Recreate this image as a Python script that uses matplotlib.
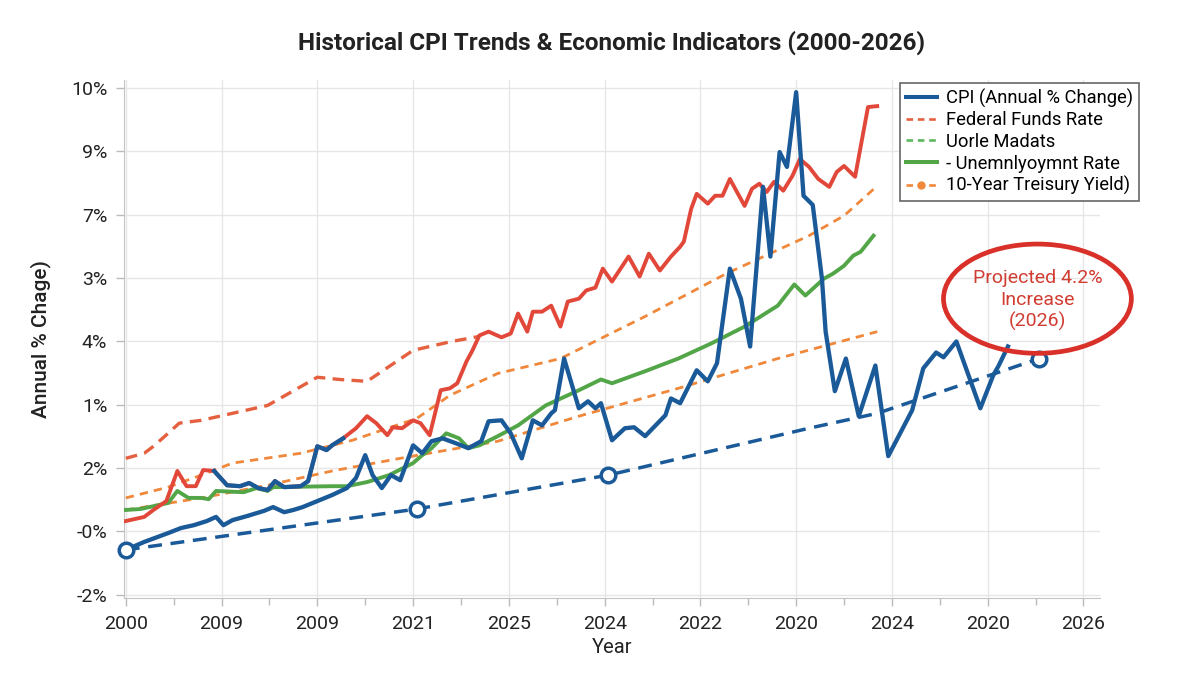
import numpy as np
import matplotlib.pyplot as plt
from matplotlib.lines import Line2D
from matplotlib.patches import Ellipse

plt.rcParams['font.family'] = ['Roboto', 'DejaVu Sans']

# axis labels exactly as printed on the chart
x_tick_labels = ['2000', '2009', '2009', '2021', '2025', '2024', '2022', '2020', '2024', '2020', '2026']
y_tick_labels = ['-2%', '-0%', '2%', '1%', '4%', '3%', '7%', '9%', '10%']

# CPI (annual % change), main series
cpi_year = [2000.0, 2000.5, 2001.15, 2001.5, 2001.85, 2002.2, 2002.45, 2002.65, 2002.9, 2003.3,
            2003.75, 2004.0, 2004.3, 2004.55, 2004.8, 2005.2, 2005.6, 2006.0, 2006.25, 2006.5,
            2006.7, 2006.95, 2007.2, 2007.45, 2007.8, 2008.05, 2008.3, 2008.6, 2008.95, 2009.3,
            2009.65, 2009.85, 2010.2, 2010.45, 2010.75, 2011.05, 2011.3, 2011.55, 2011.65, 2011.9,
            2012.3, 2012.55, 2012.75, 2012.9, 2013.2, 2013.55, 2013.8, 2014.1, 2014.65, 2014.8,
            2015.05, 2015.5, 2015.8, 2016.05, 2016.4, 2016.7, 2016.95, 2017.3, 2017.5, 2017.75,
            2017.95, 2018.2, 2018.4, 2018.65, 2018.9, 2019.0, 2019.25, 2019.55, 2019.9, 2020.35,
            2020.7, 2021.35, 2021.65, 2022.0, 2022.2, 2022.55, 2023.2, 2023.55, 2023.7, 2023.95]
cpi_val = [-0.58, -0.33, -0.05, 0.11, 0.20, 0.33, 0.46, 0.20, 0.36, 0.49,
           0.65, 0.77, 0.61, 0.68, 0.77, 0.96, 1.15, 1.37, 1.69, 2.41,
           1.78, 1.37, 1.78, 1.62, 2.72, 2.47, 2.85, 2.94, 2.79, 2.63,
           2.85, 3.48, 3.51, 3.10, 2.31, 3.51, 3.35, 3.73, 3.83, 5.46,
           3.89, 4.11, 3.89, 4.05, 2.88, 3.26, 3.29, 3.01, 3.67, 4.20,
           4.05, 5.09, 4.74, 5.31, 8.30, 7.35, 5.84, 10.88, 8.68, 11.98,
           11.51, 13.87, 10.60, 10.31, 7.98, 6.31, 4.43, 5.46, 3.64, 5.24,
           2.38, 3.83, 5.15, 5.65, 5.50, 6.00, 3.89, 4.93, 5.24, 5.84]

# short CPI segment drawn over the red line
cpi2_year = [2002.4, 2002.75, 2003.1, 2003.35, 2003.6, 2003.85, 2004.05, 2004.3, 2004.75,
             2004.95, 2005.2, 2005.45, 2005.6, 2005.9]
cpi2_val = [1.91, 1.46, 1.43, 1.53, 1.37, 1.31, 1.59, 1.40, 1.43, 1.59, 2.69, 2.57, 2.72, 2.94]

# red solid line
red_year = [2000.0, 2000.5, 2000.75, 2001.1, 2001.4, 2001.65, 2001.9, 2002.1, 2002.4,
            2002.75, 2003.1, 2003.35, 2003.6, 2003.85, 2004.05, 2004.3, 2004.75, 2004.95,
            2005.2, 2005.45, 2005.6, 2005.9,
            2006.15, 2006.25, 2006.55, 2006.8, 2007.1, 2007.25, 2007.5, 2007.8, 2008.0, 2008.25,
            2008.55, 2008.8, 2009.0, 2009.25, 2009.4, 2009.6, 2009.85, 2010.2, 2010.45, 2010.65,
            2010.9, 2011.05, 2011.3, 2011.55, 2011.8, 2012.0, 2012.3, 2012.5, 2012.75, 2012.95,
            2013.2, 2013.65, 2013.95, 2014.2, 2014.5, 2014.8, 2015.05, 2015.15, 2015.35, 2015.5,
            2015.8, 2016.0, 2016.2, 2016.4, 2016.8, 2017.0, 2017.2, 2017.4, 2017.6, 2017.85,
            2018.1, 2018.3, 2018.55, 2018.8, 2019.1, 2019.3, 2019.5, 2019.8, 2020.15, 2020.4]
red_val = [0.33, 0.46, 0.68, 0.96, 1.91, 1.43, 1.43, 1.94, 1.91,
           1.46, 1.43, 1.53, 1.37, 1.31, 1.59, 1.40, 1.43, 1.59,
           2.69, 2.57, 2.72, 2.94,
           3.17, 3.26, 3.64, 3.42, 3.04, 3.29, 3.26, 3.51, 3.42, 3.04,
           4.46, 4.52, 4.68, 5.37, 5.69, 6.19, 6.31, 6.13, 6.25, 6.88,
           6.31, 6.94, 6.94, 7.13, 6.47, 7.26, 7.35, 7.61, 7.70, 8.30,
           7.89, 8.68, 8.05, 8.77, 8.24, 8.68, 8.99, 9.15, 10.19, 10.66,
           10.35, 10.60, 10.60, 11.13, 10.28, 10.82, 10.98, 10.72, 11.04, 10.76,
           11.23, 11.76, 11.51, 11.13, 10.88, 11.35, 11.54, 11.20, 13.40, 13.43]

# Federal Funds Rate (dashed)
fed_year = [2000.0, 2000.5, 2000.75, 2001.15, 2001.45, 2002.05, 2003.85, 2005.2, 2005.8,
            2006.55, 2007.8, 2008.85, 2009.6]
fed_val = [2.31, 2.47, 2.69, 3.10, 3.42, 3.51, 3.98, 4.87, 4.80, 4.74, 5.72, 6.00, 6.16]

# unemployment rate
unemp_year = [2000.0, 2000.4, 2001.15, 2001.4, 2001.7, 2002.05, 2002.25, 2002.45, 2003.2,
              2003.55, 2003.85, 2004.0, 2005.6, 2006.0, 2006.55, 2007.15, 2007.8, 2008.05,
              2008.3, 2008.7, 2009.05, 2009.3, 2009.6, 2010.1, 2010.65, 2011.4, 2012.3, 2012.9,
              2013.2, 2014.1, 2015.0, 2015.9, 2016.8, 2017.7, 2018.15, 2018.45, 2018.95, 2019.2,
              2019.5, 2019.75, 2019.95, 2020.3]
unemp_val = [0.68, 0.71, 0.90, 1.28, 1.06, 1.06, 1.02, 1.28, 1.24,
             1.37, 1.28, 1.40, 1.43, 1.43, 1.56, 1.78, 2.16, 2.41,
             2.63, 3.10, 2.94, 2.63, 2.72, 3.01, 3.35, 3.98, 4.46, 4.80,
             4.68, 5.06, 5.46, 5.94, 6.47, 7.13, 7.80, 7.45, 7.98, 8.14,
             8.39, 8.71, 8.83, 9.34]

# 10-year treasury yield, upper and lower dashed curves
tsy_hi_year = [2000.0, 2001.15, 2002.05, 2002.9, 2004.75, 2006.15, 2007.9, 2008.8, 2010.1,
               2011.8, 2014.1, 2016.3, 2018.55, 2019.5, 2020.4]
tsy_hi_val = [1.06, 1.40, 1.78, 2.16, 2.47, 2.88, 3.57, 4.30, 4.99, 5.46, 6.79, 8.14, 9.34, 9.97, 10.91]
tsy_lo_year = [2000.0, 2002.05, 2003.85, 2005.6, 2007.45, 2010.1, 2012.3, 2015.0, 2017.7, 2020.4]
tsy_lo_val = [0.68, 1.06, 1.46, 1.91, 2.31, 2.85, 3.64, 4.52, 5.46, 6.31]

# CPI projection (dashed, with open markers)
proj_year = [2000.0, 2007.9, 2013.1, 2015.9, 2018.55, 2020.4, 2024.8]
proj_val = [-0.58, 0.71, 1.78, 2.54, 3.26, 3.73, 5.46]
proj_mark_year = [2000.0, 2007.9, 2013.1, 2024.8]
proj_mark_val = [-0.58, 0.71, 1.78, 5.46]

blue = '#1b5a98'
red = '#e2483a'
red_d = '#e4603e'
orange = '#f0883c'
green = '#52a648'
green_l = '#5cb85c'

fig = plt.figure(figsize=(12, 6.85), dpi=100)
ax = fig.add_axes([0.1033, 0.127, 0.8134, 0.756])

ax.plot(tsy_hi_year, tsy_hi_val, color=orange, lw=2.0, dashes=(3, 2.2), zorder=3)
ax.plot(tsy_lo_year, tsy_lo_val, color=orange, lw=2.0, dashes=(3, 2.2), zorder=3)
ax.plot(fed_year, fed_val, color=red_d, lw=2.4, dashes=(3.5, 2.2), zorder=3)
ax.plot(unemp_year, unemp_val, color=green, lw=2.8, zorder=4)
ax.plot(red_year, red_val, color=red, lw=2.8, zorder=4)
ax.plot(proj_year, proj_val, color=blue, lw=2.5, dashes=(4, 2.5), zorder=5)
ax.plot(cpi_year, cpi_val, color=blue, lw=3.1, zorder=6)
ax.plot(cpi2_year, cpi2_val, color=blue, lw=3.1, zorder=6)
ax.plot(proj_mark_year, proj_mark_val, 'o', ms=10.5, mfc='white', mec=blue, mew=2.5,
        zorder=7, clip_on=False)

ax.set_xlim(1999.95, 2026.45)
ax.set_ylim(-2.1, 14.25)
ax.set_xticks(np.linspace(2000, 2026, 11))
ax.set_xticklabels(x_tick_labels)
ax.set_xticks(np.linspace(2001.3, 2024.7, 10), minor=True)
ax.set_yticks(np.arange(-2, 15, 2))
ax.set_yticklabels(y_tick_labels)
ax.tick_params(axis='both', which='major', labelsize=14, colors='#bbbbbb',
               labelcolor='#222222', length=6, width=1, pad=6)
ax.tick_params(axis='x', which='minor', colors='#bbbbbb', length=5, width=1)
ax.grid(True, which='major', color='#e6e6e6', lw=1)
for s in ['top', 'right']:
    ax.spines[s].set_visible(False)
for s in ['left', 'bottom']:
    ax.spines[s].set_color('#c4c4c4')

ax.set_title('Historical CPI Trends & Economic Indicators (2000-2026)', fontsize=17.5,
             fontweight='bold', color='#222222', pad=22)
ax.set_xlabel('Year', fontsize=14.5, color='#222222', labelpad=4)
ax.set_ylabel('Annual % Chage)', fontsize=15, fontweight='medium', color='#222222', labelpad=14)

# projection callout
ell = Ellipse((2024.75, 7.35), 5.1, 3.45, fill=False, edgecolor='#d9302a', lw=3.4,
              zorder=8, clip_on=False)
ax.add_patch(ell)
ax.text(2024.75, 7.3, 'Projected 4.2%\nIncrease\n(2026)', ha='center', va='center',
        fontsize=14, color='#d13c32', linespacing=1.25, zorder=9)

handles = [
    Line2D([], [], color=blue, lw=2.9),
    Line2D([], [], color=red_d, lw=1.9, dashes=(2.5, 1.8)),
    Line2D([], [], color=green_l, lw=1.9, dashes=(2.5, 1.8)),
    Line2D([], [], color=green, lw=2.9),
    Line2D([], [], color=orange, lw=1.9, dashes=(2.5, 1.8), marker='o', ms=5),
]
labels = ['CPI (Annual % Change)', 'Federal Funds Rate', 'Uorle Madats',
          '- Unemnlyoymnt Rate', '10-Year Treisury Yield)']
leg = fig.legend(handles, labels, loc='upper right', bbox_to_anchor=(0.949, 0.879),
                 fontsize=13.2, frameon=True, fancybox=False, edgecolor='#666666',
                 framealpha=1, handlelength=1.7, handletextpad=0.5, labelspacing=0.2,
                 borderpad=0.3, borderaxespad=0)
leg.get_frame().set_linewidth(1.2)

fig.savefig('out.png', dpi=100)
